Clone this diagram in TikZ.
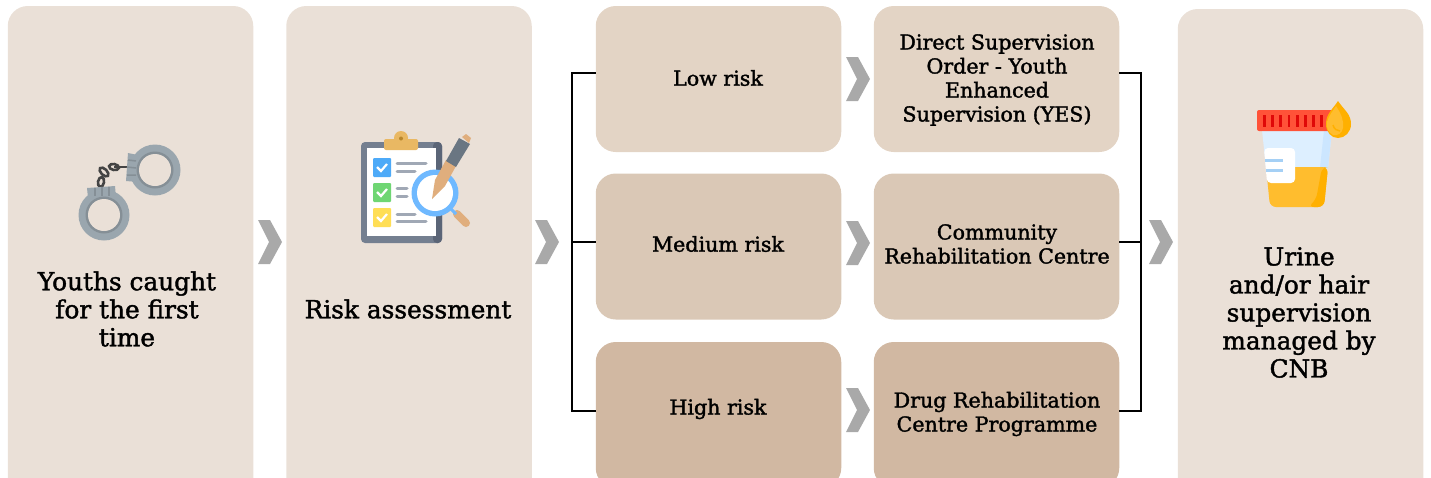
\documentclass[tikz,border=0pt]{standalone}
\usepackage{fontspec}
\setmainfont{DejaVu Serif}[BoldFont={DejaVu Serif},BoldFeatures={FakeBold=1.6}]
\definecolor{bigfill}{HTML}{EAE0D7}
\definecolor{lowfill}{HTML}{E3D4C5}
\definecolor{medfill}{HTML}{DAC8B6}
\definecolor{highfill}{HTML}{D1B8A2}
\definecolor{chevgrey}{HTML}{A9A9A9}
\definecolor{cuffgrey}{HTML}{9AA6AE}
\definecolor{cuffdark}{HTML}{858F96}
\definecolor{chaingrey}{HTML}{444444}
\definecolor{boardgrey}{HTML}{747F90}
\definecolor{boarddark}{HTML}{5B6577}
\definecolor{linegrey}{HTML}{A0A8B5}
\definecolor{clipgold}{HTML}{E9B863}
\definecolor{cliphole}{HTML}{B8862B}
\definecolor{boxblue}{HTML}{4DAAF8}
\definecolor{boxgreen}{HTML}{6FD673}
\definecolor{boxyellow}{HTML}{FFDE55}
\definecolor{lensblue}{HTML}{6FB9FF}
\definecolor{pentan}{HTML}{E0AE7D}
\definecolor{pengrey}{HTML}{6A7682}
\definecolor{capred}{HTML}{FF5238}
\definecolor{tickred}{HTML}{E00808}
\definecolor{cuplight}{HTML}{DDEFFF}
\definecolor{cupshade}{HTML}{CCE6FF}
\definecolor{urine}{HTML}{FFBD2E}
\definecolor{urinedark}{HTML}{FFB000}
\definecolor{labelline}{HTML}{A5D0F5}
\tikzset{
  tallbox/.style={rounded corners=20pt,fill=bigfill,minimum width=245.5pt,minimum height=500pt,inner sep=0pt},
  riskbox/.style={rounded corners=20pt,minimum width=245.5pt,minimum height=146pt,inner sep=0pt},
  bigtext/.style={align=center,font=\fontsize{24.8}{28}\selectfont\bfseries},
  smalltext/.style={align=center,font=\fontsize{20.6}{24}\selectfont\bfseries},
  bracket/.style={line width=2pt,black},
  chevron/.pic={\fill[chevgrey] (0,0) -- (12,0) -- (24,22) -- (12,44) -- (0,44) -- (11,22) -- cycle;}
}
\begin{document}
\begin{tikzpicture}[x=1pt,y=-1pt]
\useasboundingbox (0,0) rectangle (1431,477);
\clip (0,0) rectangle (1431,477);

\node [tallbox] (youths) at (130.5,256) {};
\node [tallbox] (assess) at (409,256) {};
\node [tallbox] (urinebox) at (1300.5,259) {};

\node [riskbox,fill=lowfill] (low) at (718.5,79) {};
\node [riskbox,fill=medfill] (med) at (718.5,246.5) {};
\node [riskbox,fill=highfill] (high) at (718.5,415) {};
\node [riskbox,fill=lowfill] (yes) at (996.5,79) {};
\node [riskbox,fill=medfill] (crc) at (996.5,246.5) {};
\node [riskbox,fill=highfill] (drc) at (996.5,415) {};

\node [bigtext] (youthstext) at (127,309) {Youths caught\\for the first\\time};
\node [bigtext] (assesstext) at (408,309) {Risk assessment};
\node [bigtext] (urinetext) at (1299,312.5) {Urine\\and/or hair\\supervision\\managed by\\CNB};
\node [smalltext] (lowtext) at (718,78) {Low risk};
\node [smalltext] (medtext) at (718,244) {Medium risk};
\node [smalltext] (hightext) at (718,409) {High risk};
\node [smalltext] (yestext) at (997,80) {Direct Supervision\\Order - Youth\\Enhanced\\Supervision (YES)};
\node [smalltext] (crctext) at (997,244) {Community\\Rehabilitation Centre};
\node [smalltext] (drctext) at (997,414) {Drug Rehabilitation\\Centre Programme};

\coordinate (trunkin) at (572,242);
\coordinate (trunkout) at (1141,242);
\draw [bracket] ([yshift=6pt]low.west) -| (trunkin) |- ([yshift=4pt]high.west);
\draw [bracket] (trunkin) -- (trunkin -| med.west);
\draw [bracket] ([yshift=6pt]yes.east) -| (trunkout) |- ([yshift=4pt]drc.east);
\draw [bracket] (trunkout) -- (trunkout -| crc.east);

\pic at (258,220) {chevron};
\pic at (535,220) {chevron};
\pic at (846,57) {chevron};
\pic at (846,221) {chevron};
\pic at (846,388) {chevron};
\pic at (1149,220) {chevron};

% handcuffs
\draw [line width=2.6pt,chaingrey] (127,167) -- (114,167);
\draw [line width=2.6pt,chaingrey,rotate around={-10:(114,167)}] (114,167) ellipse (5 and 3);
\draw [line width=2.6pt,chaingrey,rotate around={-45:(104,172)}] (104,172) ellipse (5.5 and 3);
\draw [line width=2.6pt,chaingrey,rotate around={80:(101,182)}] (101,182) ellipse (5 and 3);
\fill [cuffgrey] (128,153) -- (138,155) -- (138,182) -- (126,181) -- cycle;
\fill [cuffgrey] (155,170) circle (25.5);
\fill [cuffdark] (155,170) circle (18.5);
\fill [bigfill] (155,170) circle (16);
\fill [cuffgrey] (87,188) -- (115,186) -- (116,198) -- (88,198) -- cycle;
\fill [cuffgrey] (104,215) circle (25.5);
\fill [cuffdark] (104,215) circle (18.5);
\fill [bigfill] (104,215) circle (16);
\draw [line width=1.5pt,cuffdark] (128,160) -- (136,161) (127,167) -- (136,168) (127,175) -- (136,175);
\draw [line width=1.5pt,cuffdark] (95,188) -- (95,196) (102,187) -- (102,196) (109,187) -- (109,196);

% clipboard
\fill [boardgrey,rounded corners=4pt] (361,142) rectangle (442,243);
\fill [boarddark,rounded corners=4pt] (433,142) rectangle (442,243);
\fill [white] (367,148) rectangle (436,236);
\fill [clipgold] (401,138) circle (7);
\fill [clipgold,rounded corners=2pt] (384,139) rectangle (418,150);
\fill [cliphole] (401,138.5) circle (2);
\fill [boxblue,rounded corners=1pt] (373,158) rectangle (391,177);
\fill [boxgreen,rounded corners=1pt] (373,183) rectangle (391,202);
\fill [boxyellow,rounded corners=1pt] (373,208) rectangle (391,227);
\draw [white,line width=2.2pt] (377,167) -- (381,171) -- (387,164);
\draw [white,line width=2.2pt] (377,192) -- (381,196) -- (387,189);
\draw [white,line width=2.2pt] (377,217) -- (381,221) -- (387,214);
\draw [linegrey,line width=3pt,line cap=round] (397,163) -- (426,163) (397,171) -- (415,171) (397,188) -- (407,188) (397,196) -- (407,196) (397,214) -- (415,214) (397,221) -- (426,221);
\draw [pentan,line width=8pt,line cap=round] (457,214) -- (466,223);
\draw [lensblue,line width=3pt] (450,208) -- (456,214);
\fill [lensblue] (435,193) circle (23.5);
\fill [white] (435,193) circle (18);
\fill [pentan] (432,199) -- (435,180) -- (446,160) -- (456,166) -- (445,186) -- cycle;
\fill [pengrey] (446,161) -- (459,138) -- (470,144) -- (456,167) -- cycle;
\fill [pentan] (462,137) -- (466,134) -- (471,138) -- (469,143) -- cycle;

% cup
\fill [cuplight] (1262,130) -- (1332,130) -- (1328,168) -- (1266,168) -- cycle;
\fill [cupshade] (1324,130) -- (1332,130) -- (1328,168) -- (1320,168) -- cycle;
\fill [urine,rounded corners=6pt] (1266,167) -- (1328,167) -- (1324,207) -- (1270,207) -- cycle;
\fill [urinedark,rounded corners=6pt] (1322,167) -- (1328,167) -- (1324,207) -- (1308,207) -- (1316,200) -- cycle;
\fill [white,rounded corners=4pt] (1264,148) -- (1295,148) -- (1295,183) -- (1267,183) -- cycle;
\draw [labelline,line width=2.5pt] (1265,160.5) -- (1283,160.5) (1266,170.5) -- (1283,170.5);
\fill [capred,rounded corners=2pt] (1257,110) rectangle (1334,131);
\foreach \tickx in {0,...,7}
  \draw [tickred,line width=2.8pt] (1264.3+8.2*\tickx,115) -- (1264.3+8.2*\tickx,127);
\fill [urinedark] (1338,101) .. controls (1344,110) and (1351,114) .. (1351,124) .. controls (1351,132) and (1345,138) .. (1338,138) .. controls (1331,138) and (1326,132) .. (1326,124) .. controls (1326,114) and (1332,110) .. (1338,101) -- cycle;
\fill [urine] (1336,106) .. controls (1341,114) and (1344,120) .. (1343,128) .. controls (1342,133) and (1338,136) .. (1333,135) .. controls (1328,132) and (1326,128) .. (1327,122) .. controls (1329,115) and (1333,111) .. (1336,106) -- cycle;
\draw [urinedark,line width=1.5pt] (1333,125) .. controls (1334,129) and (1337,131) .. (1340,131);
\end{tikzpicture}
\end{document}
